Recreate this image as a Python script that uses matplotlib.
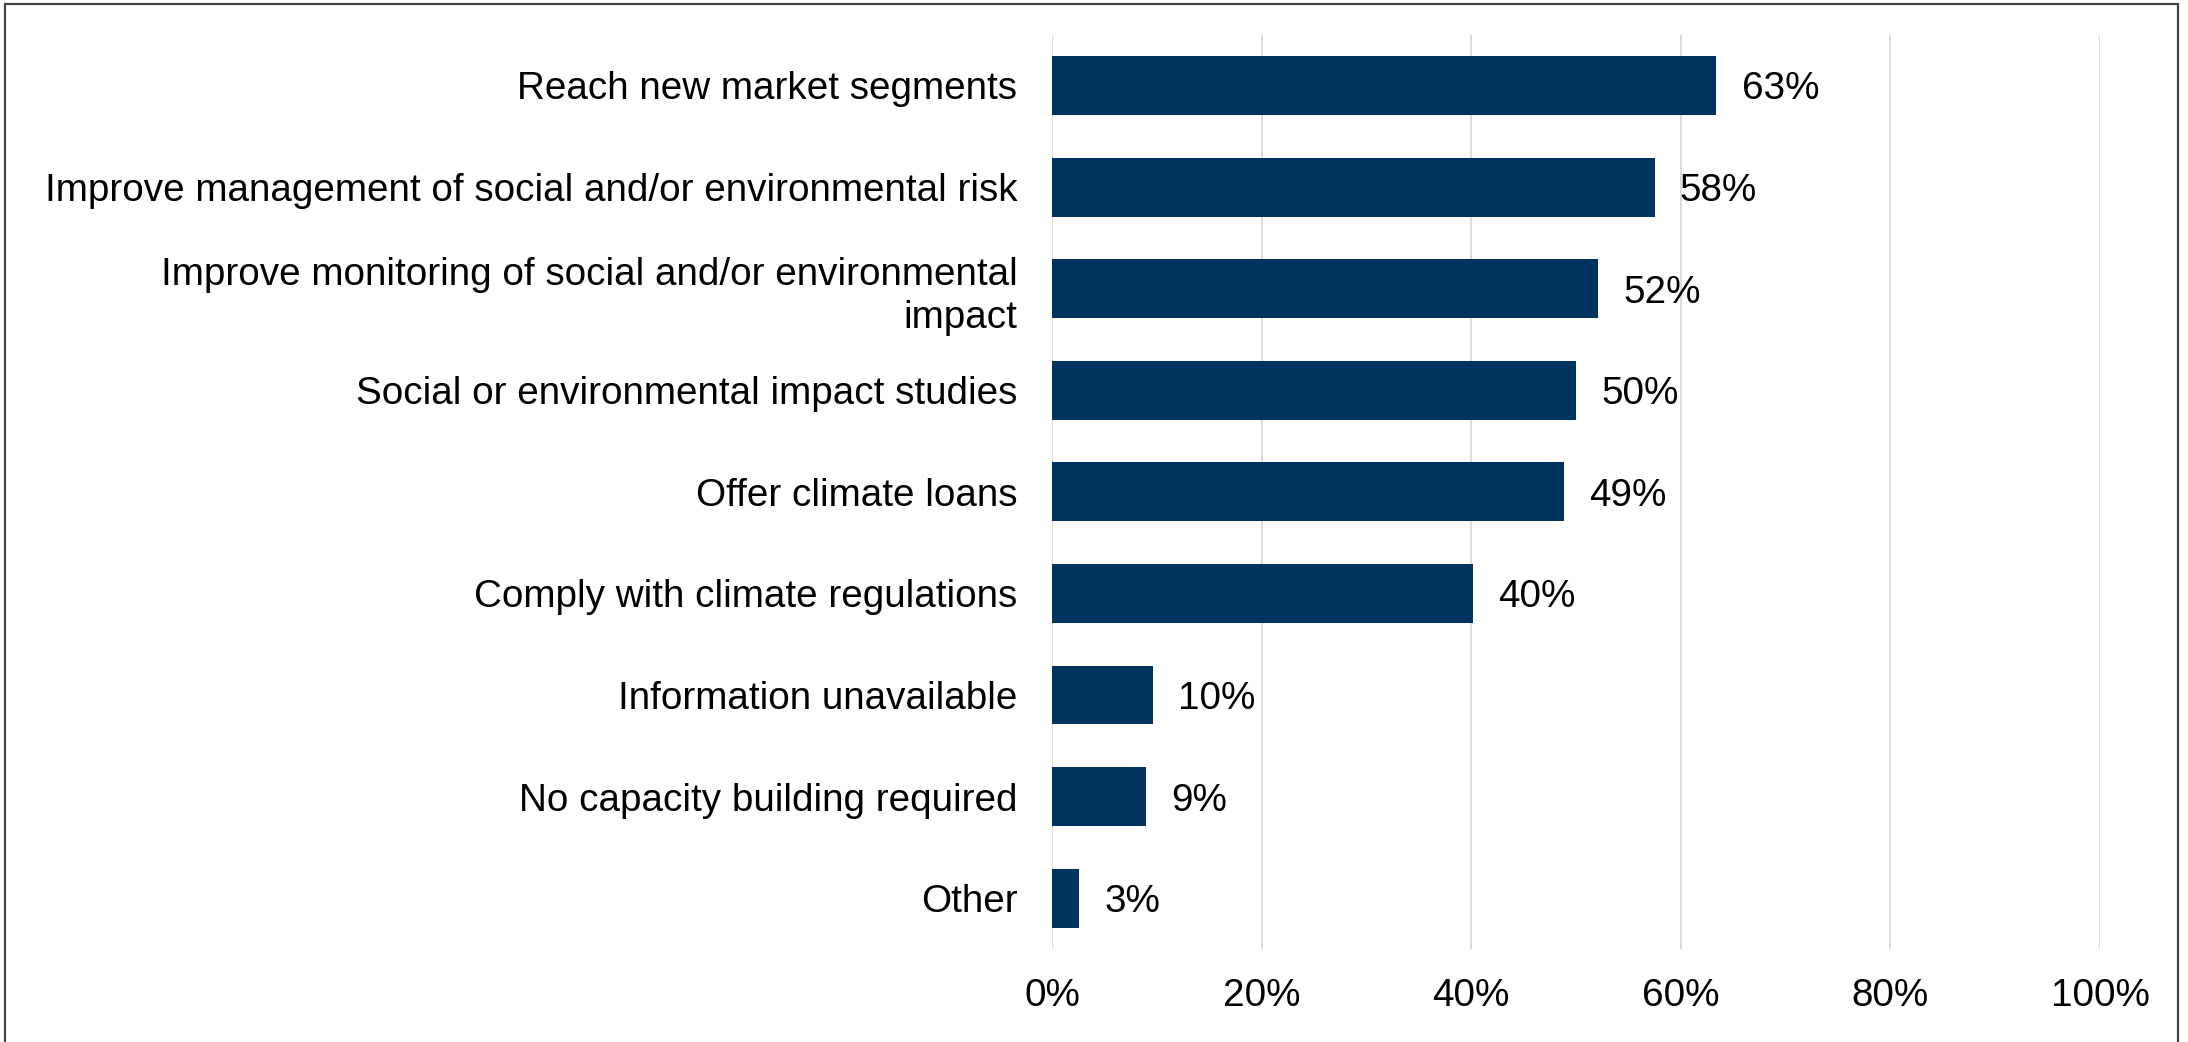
import matplotlib.pyplot as plt
from matplotlib.patches import Rectangle

# data
categories = [
    "Reach new market segments",
    "Improve management of social and/or environmental risk",
    "Improve monitoring of social and/or environmental\nimpact",
    "Social or environmental impact studies",
    "Offer climate loans",
    "Comply with climate regulations",
    "Information unavailable",
    "No capacity building required",
    "Other",
]
values = [63.4, 57.5, 52.1, 50.0, 48.9, 40.2, 9.6, 9.0, 2.6]
labels = ["63%", "58%", "52%", "50%", "49%", "40%", "10%", "9%", "3%"]
ticks = [0, 20, 40, 60, 80, 100]

plt.rcParams['font.family'] = ['Liberation Sans', 'DejaVu Sans']
fs = 27.8

fig = plt.figure(figsize=(21.88, 10.42), dpi=100)
ax = fig.add_axes([1052 / 2188, 1 - 949 / 1042, 1048 / 2188, (949 - 34.7) / 1042])

ypos = list(range(len(categories)))
ax.barh(ypos, values, height=0.58, color='#00335F', zorder=3)
for y, v, lab in zip(ypos, values, labels):
    ax.text(v + 2.4, y, lab, va='center_baseline', ha='left', fontsize=fs, color='black')

ax.set_xlim(0, 100)
ax.set_ylim(len(categories) - 0.5, -0.5)
ax.set_yticks(ypos)
ax.set_yticklabels(categories, fontsize=fs, linespacing=1.27)
for t in ax.get_yticklabels():
    t.set_horizontalalignment('right')
    t.set_multialignment('right')
ax.set_xticks(ticks)
ax.set_xticklabels(["{}%".format(t) for t in ticks], fontsize=fs)
ax.tick_params(axis='both', length=0)
ax.tick_params(axis='y', pad=25)
ax.tick_params(axis='x', pad=21)

ax.grid(axis='x', color='#d9d9d9', linewidth=1.3, zorder=0)
for s in ax.spines.values():
    s.set_visible(False)

# outer frame
fig.patches.append(Rectangle((5 / 2188, -0.05), 2173 / 2188, 1.05 - 4 / 1042,
                             transform=fig.transFigure, fill=False,
                             edgecolor='#444444', linewidth=1.6))

fig.savefig("out.png", dpi=100)
